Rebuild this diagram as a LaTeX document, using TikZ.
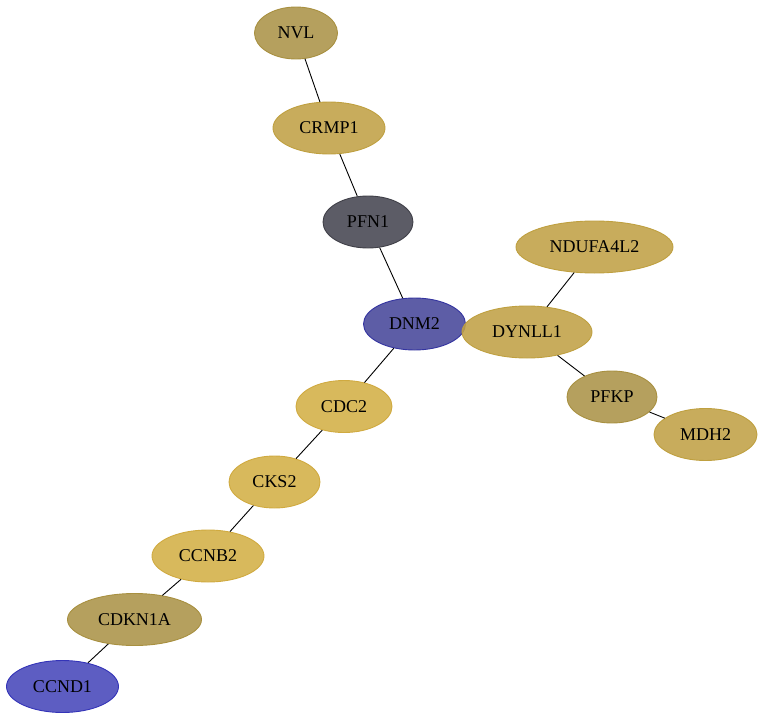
\documentclass[tikz,border=0pt]{standalone}
\usepackage{fontspec}
\setmainfont{Liberation Serif}
\usetikzlibrary{shapes.geometric}
\definecolor{olive}{HTML}{B5A05E}
\definecolor{oliveb}{HTML}{A89040}
\definecolor{gold}{HTML}{C8AC5C}
\definecolor{goldt}{HTML}{C0A146}
\definecolor{goldb}{HTML}{BFA040}
\definecolor{yel}{HTML}{D8B95C}
\definecolor{yelb}{HTML}{D0AA40}
\definecolor{gry}{HTML}{5C5C66}
\definecolor{gryb}{HTML}{404048}
\definecolor{blu}{HTML}{5D5DA6}
\definecolor{blub}{HTML}{3434A0}
\definecolor{blu2}{HTML}{5D5DC2}
\definecolor{blu2b}{HTML}{3434B8}
\tikzset{
  gene/.style={ellipse, inner sep=0pt, line width=0.9pt, font=\fontsize{18}{21}\selectfont},
  link/.style={line width=0.9pt, black},
}
\begin{document}
\begin{tikzpicture}[x=1pt,y=-1pt]
\useasboundingbox (0,0) rectangle (763,720);
\node[gene, fill=olive, draw=oliveb, minimum width=83, minimum height=52] (NVL) at (296,33) {NVL};
\node[gene, fill=gold, draw=goldb, minimum width=112, minimum height=52] (CRMP1) at (329,128) {CRMP1};
\node[gene, fill=gry, draw=gryb, minimum width=90, minimum height=52] (PFN1) at (368,222) {PFN1};
\node[gene, fill=gold, draw=goldb, minimum width=157, minimum height=52] (NDUFA4L2) at (594.5,247) {NDUFA4L2};
\node[gene, fill=blu, draw=blub, minimum width=102, minimum height=52] (DNM2) at (414.5,324) {DNM2};
\node[gene, fill=goldt, draw=goldb, fill opacity=0.88, text opacity=1, minimum width=130, minimum height=52] (DYNLL1) at (527,332) {DYNLL1};
\node[gene, fill=olive, draw=oliveb, minimum width=90, minimum height=52] (PFKP) at (612,397) {PFKP};
\node[gene, fill=gold, draw=goldb, minimum width=103, minimum height=52] (MDH2) at (705.5,434.5) {MDH2};
\node[gene, fill=yel, draw=yelb, minimum width=96, minimum height=52] (CDC2) at (344,406.5) {CDC2};
\node[gene, fill=yel, draw=yelb, minimum width=91, minimum height=52] (CKS2) at (274.5,482) {CKS2};
\node[gene, fill=yel, draw=yelb, minimum width=112, minimum height=52] (CCNB2) at (208,556) {CCNB2};
\node[gene, fill=olive, draw=oliveb, minimum width=134, minimum height=52] (CDKN1A) at (134.5,619.5) {CDKN1A};
\node[gene, fill=blu2, draw=blu2b, minimum width=112, minimum height=52] (CCND1) at (62.5,686.5) {CCND1};
\draw[link] (NVL) -- (CRMP1);
\draw[link] (CRMP1) -- (PFN1);
\draw[link] (PFN1) -- (DNM2);
\draw[link] (DNM2) -- (CDC2);
\draw[link] (DYNLL1) -- (NDUFA4L2);
\draw[link] (DYNLL1) -- (PFKP);
\draw[link] (PFKP) -- (MDH2);
\draw[link] (CDC2) -- (CKS2);
\draw[link] (CKS2) -- (CCNB2);
\draw[link] (CCNB2) -- (CDKN1A);
\draw[link] (CDKN1A) -- (CCND1);
\end{tikzpicture}
\end{document}
